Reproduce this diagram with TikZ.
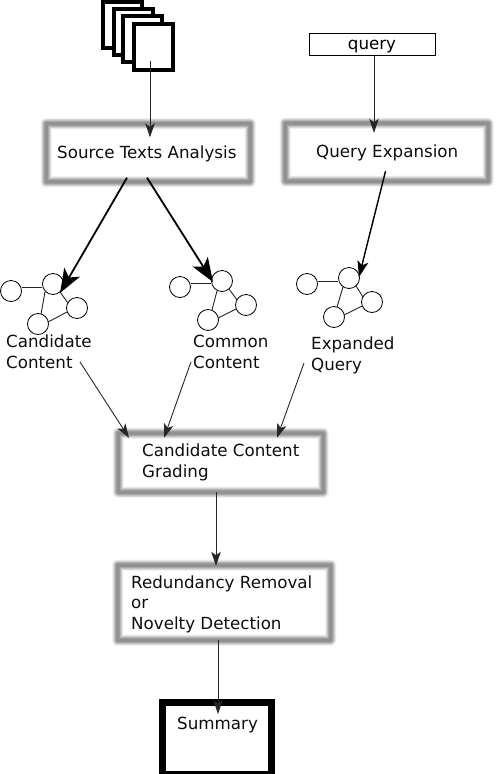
\documentclass[tikz,border=0pt]{standalone}
\usepackage{fontspec}
\setmainfont{DejaVu Sans}
\usetikzlibrary{arrows.meta,fit}
\tikzset{
  x=1pt,y=-1pt,
  blurbox/.style={rectangle,draw=none,inner sep=0pt,minimum width=#1,line join=round,
    preaction={draw=black!2,line width=12pt},
    preaction={draw=black!5,line width=11pt},
    preaction={draw=black!9,line width=10pt},
    preaction={draw=black!14,line width=9pt},
    preaction={draw=black!19,line width=8pt},
    preaction={draw=black!24,line width=7pt},
    preaction={draw=black!29,line width=6pt},
    preaction={draw=black!34,line width=5pt},
    preaction={draw=black!39,line width=4pt},
    preaction={draw=black!43,line width=3pt}},
  doc/.style={rectangle,draw=black,fill=white,line width=4pt,inner sep=0pt,minimum width=39pt,minimum height=46pt},
  gn/.style={circle,draw=black,fill=white,line width=.8pt,inner sep=0pt,minimum size=21pt},
  ge/.style={draw=black!85,line width=.9pt},
  lbl/.style={anchor=west,inner sep=0pt,align=left,font=\fontsize{16.7pt}{20.6pt}\selectfont,text=black!95},
  thin arrow/.style={draw=black!85,line width=.9pt,-{Stealth[length=14pt,width=9.5pt,inset=3.5pt]}},
  big arrow/.style={draw=black,line width=1.8pt,-{Stealth[length=24pt,width=18pt,inset=6pt]}},
  mid arrow/.style={draw=black,line width=1.4pt,-{Stealth[length=16pt,width=11pt,inset=4pt]}},
}
\begin{document}
\begin{tikzpicture}
\useasboundingbox (0,0) rectangle (498,774);
% source documents
\node[doc] (d1) at (122.5,24.5) {};
\node[doc] (d2) at (133.5,32) {};
\node[doc] (d3) at (142,39) {};
\node[doc] (d4) at (153,46.5) {};
% query
\node[rectangle,draw=black,line width=.7pt,minimum width=126pt,minimum height=22pt,inner sep=0pt,
      text height=11pt,text depth=2pt,font=\fontsize{16.7pt}{18pt}\selectfont] (query) at (372,44.5) {query};
% boxes
\node[blurbox=204pt,minimum height=58pt] (src) at (148,152.5) {};
\node[blurbox=203pt,minimum height=58pt] (qe) at (386.5,152) {};
\node[blurbox=205pt,minimum height=59pt] (grade) at (220.5,462.5) {};
\node[blurbox=213pt,minimum height=75pt] (red) at (224,602.5) {};
\node[rectangle,draw=black,fill=white,line width=7pt,inner sep=0pt,minimum width=109pt,minimum height=72pt] (sum) at (216.5,738.5) {};
% box texts
\node[lbl] (tsrc) at (57,154) {Source Texts Analysis};
\node[lbl] (tqe) at (316,152.5) {Query Expansion};
\node[lbl] (tgrade) at (142,462.5) {Candidate Content\\Grading};
\node[lbl] (tred) at (131,604) {Redundancy Removal\\or\\Novelty Detection};
\node[lbl] (tsum) at (177,725) {Summary};
% graph 1
\node[gn] (a1) at (11,291) {};
\node[gn] (a2) at (53,284) {};
\node[gn] (a3) at (77,308) {};
\node[gn] (a4) at (38,324) {};
\draw[ge] ([yshift=4pt]a1.east) -- ([yshift=-3pt]a2.west);
\draw[ge] ([xshift=7pt,yshift=-8pt]a2.center) -- ([xshift=-9pt,yshift=5pt]a3.center);
\draw[ge] ([xshift=-10pt,yshift=-4pt]a3.center) -- ([xshift=10pt,yshift=2pt]a4.center);
\draw[ge] ([xshift=-8pt,yshift=-8pt]a2.center) -- ([xshift=3pt,yshift=10pt]a4.center);
% graph 2
\node[gn] (b1) at (180,287) {};
\node[gn] (b2) at (222,281) {};
\node[gn] (b3) at (246,305) {};
\node[gn] (b4) at (208,320) {};
\draw[ge] ([yshift=4pt]b1.east) -- ([yshift=-2pt]b2.west);
\draw[ge] ([xshift=7pt,yshift=-8pt]b2.center) -- ([xshift=-9pt,yshift=5pt]b3.center);
\draw[ge] ([xshift=-10pt,yshift=-4pt]b3.center) -- ([xshift=10pt,yshift=2pt]b4.center);
\draw[ge] ([xshift=-5pt,yshift=-10pt]b2.center) -- ([xshift=4pt,yshift=10pt]b4.center);
% graph 3
\node[gn] (c1) at (307,284) {};
\node[gn] (c2) at (349,278) {};
\node[gn] (c3) at (372,302) {};
\node[gn] (c4) at (334,317) {};
\draw[ge] ([yshift=3pt]c1.east) -- ([yshift=-3pt]c2.west);
\draw[ge] ([xshift=7pt,yshift=-8pt]c2.center) -- ([xshift=-9pt,yshift=5pt]c3.center);
\draw[ge] ([xshift=-10pt,yshift=-4pt]c3.center) -- ([xshift=10pt,yshift=2pt]c4.center);
\draw[ge] ([xshift=-6pt,yshift=-9pt]c2.center) -- ([xshift=3pt,yshift=10pt]c4.center);
% graph labels
\node[lbl] (tcand) at (6,352) {Candidate\\Content};
\node[lbl] (tcomm) at (193,352) {Common\\Content};
\node[lbl] (texp) at (311,355.5) {Expanded\\Query};
% connectors
\draw[thin arrow] ([xshift=-3pt,yshift=-14pt]d4.center) -- ([xshift=-3pt,yshift=-14pt]src.north -| d4.center);
\draw[thin arrow] ([xshift=2pt]query.south) -- ([yshift=-10pt,xshift=-12.5pt]qe.north);
\draw[big arrow] ([xshift=-21pt,yshift=4pt]src.south) -- ([xshift=7pt,yshift=-9pt]a2.center);
\draw[big arrow] ([xshift=-1pt,yshift=4pt]src.south) -- ([xshift=-9pt,yshift=-1pt]b2.center);
\draw[mid arrow] ([xshift=-1pt,yshift=10pt]qe.south) -- ([xshift=10pt,yshift=1pt]c2.center);
\draw[thin arrow] ([xshift=74pt,yshift=7pt]tcand.south west) -- ([xshift=-91.5pt,yshift=-5pt]grade.north);
\draw[thin arrow] ([xshift=-2pt,yshift=7pt]tcomm.south west) -- ([xshift=-56.5pt,yshift=-5pt]grade.north);
\draw[thin arrow] ([xshift=-7pt,yshift=11pt]texp.south west) -- ([xshift=56.5pt,yshift=-5pt]grade.north);
\draw[thin arrow] ([xshift=-4.5pt]grade.south) -- ([xshift=-8pt,yshift=-1pt]red.north);
\draw[thin arrow] ([xshift=-6pt]red.south) -- ([xshift=1.5pt,yshift=-15pt]sum.north);
\end{tikzpicture}
\end{document}
